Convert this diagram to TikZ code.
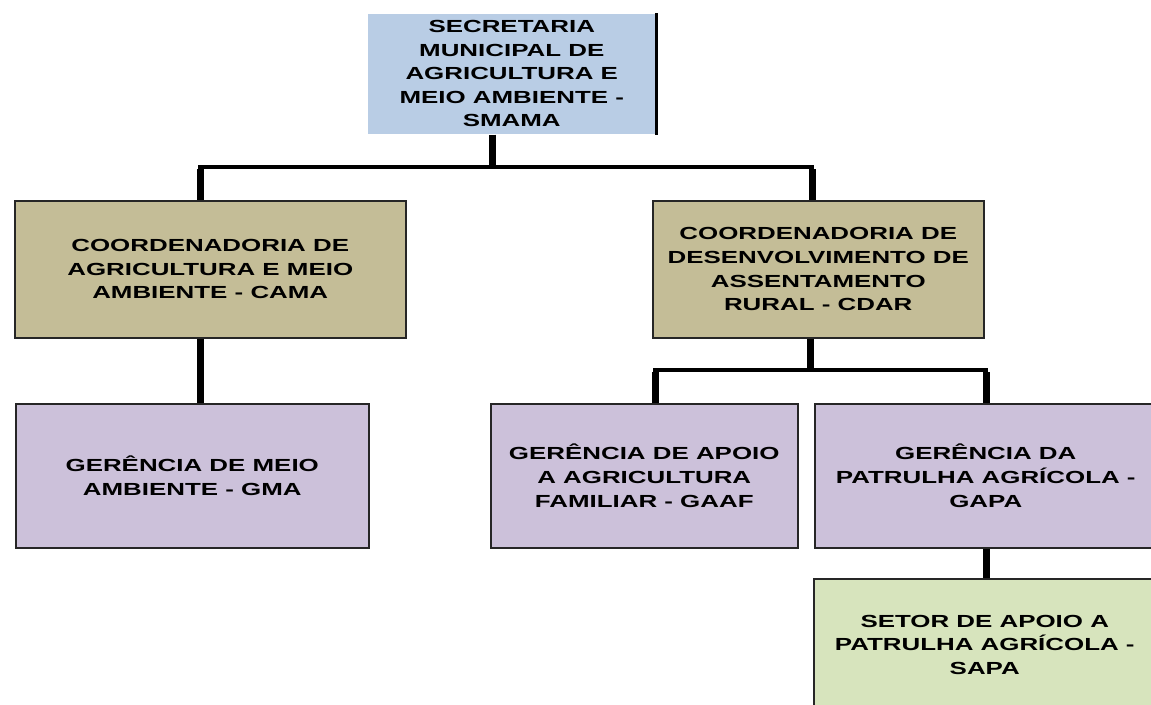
\documentclass[tikz,border=0pt]{standalone}
\usepackage{fontspec}
\setmainfont{Liberation Sans}[FakeStretch=1.48]
\definecolor{smamaC}{HTML}{B9CDE5}
\definecolor{coordC}{HTML}{C4BD97}
\definecolor{gerC}{HTML}{CCC1DA}
\definecolor{setC}{HTML}{D7E4BD}
\tikzset{
  box/.style={draw=black!85, line width=1.5pt, inner sep=0pt, align=center, anchor=north west,
    font=\fontsize{17.5}{23.6}\selectfont\bfseries, text=black},
  vbar/.style={line width=7pt},
  hbar/.style={line width=4.5pt, line cap=rect},
}
\begin{document}
\begin{tikzpicture}[x=1pt,y=-1pt]
\useasboundingbox (0,0) rectangle (1151,704);
% boxes
\node[box, fill=smamaC, draw=none, minimum width=288pt, minimum height=120pt] (smama) at (367,13)
  {SECRETARIA\\MUNICIPAL DE\\AGRICULTURA E\\MEIO AMBIENTE -\\SMAMA};
\draw[line width=3pt] (smama.north east) -- (smama.south east);
\node[box, fill=coordC, minimum width=391pt, minimum height=137pt] (cama) at (14,200)
  {COORDENADORIA DE\\AGRICULTURA E MEIO\\AMBIENTE - CAMA};
\node[box, fill=coordC, minimum width=331pt, minimum height=137pt] (cdar) at (652,200)
  {COORDENADORIA DE\\DESENVOLVIMENTO DE\\ASSENTAMENTO\\RURAL - CDAR};
\node[box, fill=gerC, minimum width=353pt, minimum height=144pt] (gma) at (15,403)
  {GERÊNCIA DE MEIO\\AMBIENTE - GMA};
\node[box, fill=gerC, minimum width=307pt, minimum height=144pt] (gaaf) at (490,403)
  {GERÊNCIA DE APOIO\\A AGRICULTURA\\FAMILIAR - GAAF};
\node[box, fill=gerC, minimum width=342pt, minimum height=144pt] (gapa) at (814,403)
  {GERÊNCIA DA\\PATRULHA AGRÍCOLA -\\GAPA};
\node[box, fill=setC, minimum width=342pt, minimum height=132pt] (sapa) at (813,578)
  {SETOR DE APOIO A\\PATRULHA AGRÍCOLA -\\SAPA};
% bus coordinates
\coordinate (b1l) at (200,167);
\coordinate (b1r) at (812,167);
\coordinate (b2l) at (655,370);
\coordinate (b2r) at (986,370);
% connectors
\draw[vbar] ([xshift=-19pt]smama.south) -- ([xshift=-19pt,yshift=2.25pt]smama.south |- b1l);
\draw[hbar] (b1l) -- (b1r);
\draw[vbar] ([yshift=-2.25pt]b1l) -- (b1l |- cama.north);
\draw[vbar] ([yshift=-2.25pt]b1r) -- (b1r |- cdar.north);
\draw[vbar] (b1l |- cama.south) -- (b1l |- gma.north);
\draw[vbar] ([xshift=-7.5pt]cdar.south) -- ([xshift=-7.5pt,yshift=2.25pt]cdar.south |- b2l);
\draw[hbar] (b2l) -- (b2r);
\draw[vbar] ([yshift=-2.25pt]b2l) -- (b2l |- gaaf.north);
\draw[vbar] ([yshift=-2.25pt]b2r) -- (b2r |- gapa.north);
\draw[vbar] (b2r |- gapa.south) -- (b2r |- sapa.north);
\end{tikzpicture}
\end{document}
